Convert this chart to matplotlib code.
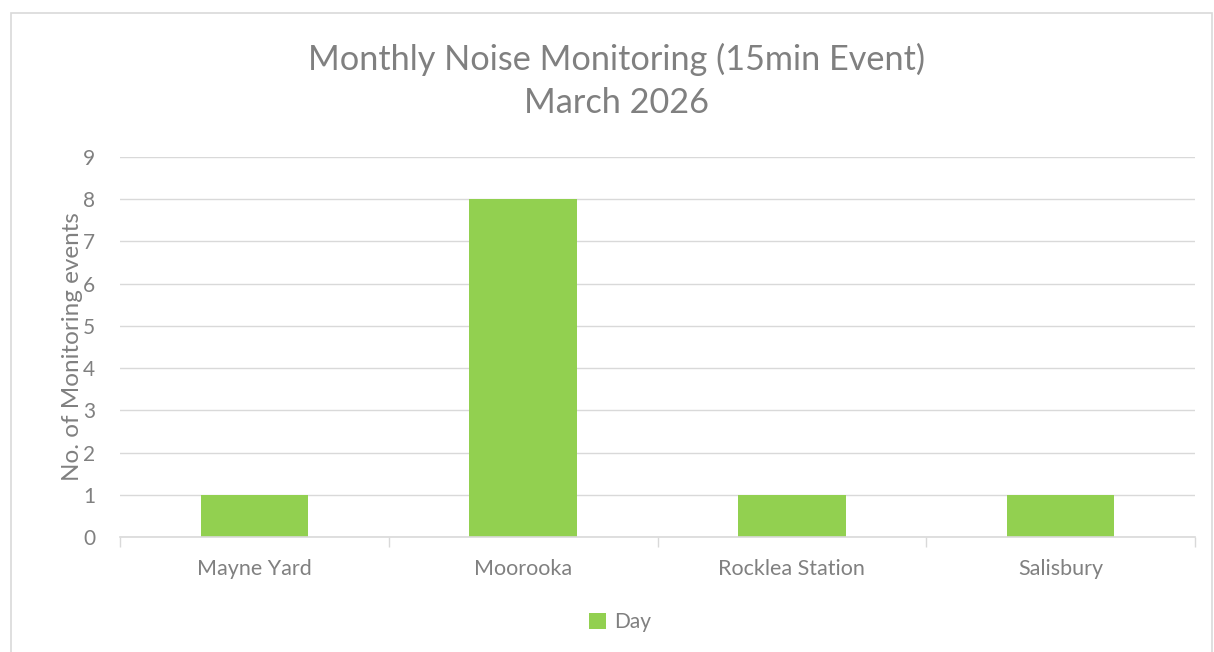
import matplotlib
matplotlib.use("Agg")
import matplotlib.pyplot as plt
from matplotlib.patches import Rectangle
import numpy as np

sites = ["Mayne Yard", "Moorooka", "Rocklea Station", "Salisbury"]
day_events = [1, 8, 1, 1]
y_ticks = list(range(0, 10))

text_grey = "#808080"
grid_grey = "#d9d9d9"
bar_green = "#92d050"

plt.rcParams["font.family"] = ["Lato", "DejaVu Sans"]

fig = plt.figure(figsize=(12.14, 6.52), dpi=100)
fig.patches.append(Rectangle((11 / 1214, -0.05), 1201 / 1214, 1 - 13 / 652 + 0.05,
                             transform=fig.transFigure, fill=False,
                             edgecolor="#d9d9d9", linewidth=1.2))

ax = fig.add_axes([120 / 1214, 1 - 537 / 652, 1075 / 1214, 380 / 652])
x = np.arange(len(sites))
ax.bar(x, day_events, width=0.4, color=bar_green, label="Day", zorder=3)

ax.set_xlim(-0.5, len(sites) - 0.5)
ax.set_ylim(0, 9)
ax.set_yticks(y_ticks)
ax.set_yticklabels([str(t) for t in y_ticks], fontsize=15, color=text_grey)
ax.set_xticks(x)
ax.set_xticklabels(sites, fontsize=15.5, color=text_grey)
ax.tick_params(axis="x", length=0, pad=16)
ax.tick_params(axis="y", length=0, pad=18)
ax.set_xticks(np.arange(-0.5, len(sites)), minor=True)
ax.tick_params(axis="x", which="minor", length=7, width=1, color=grid_grey)

ax.grid(axis="y", color=grid_grey, linewidth=1, zorder=0)
for side in ["top", "right", "left"]:
    ax.spines[side].set_visible(False)
ax.spines["bottom"].set_color(grid_grey)
ax.spines["bottom"].set_linewidth(1.2)
ax.spines["bottom"].set_zorder(4)

ax.set_ylabel("No. of Monitoring events", fontsize=17.5, color=text_grey, labelpad=0)
fig.text(0.508, 1 - 81 / 652, "Monthly Noise Monitoring (15min Event)\nMarch 2026",
         ha="center", va="center", fontsize=24.7, color=text_grey, linespacing=1.42)

leg = fig.legend(loc="center", bbox_to_anchor=(620 / 1214, 1 - 622 / 652), frameon=False,
                 fontsize=15, handlelength=0.8, handleheight=0.8, handletextpad=0.4)
for t in leg.get_texts():
    t.set_color(text_grey)

fig.savefig("out.png", dpi=100)
